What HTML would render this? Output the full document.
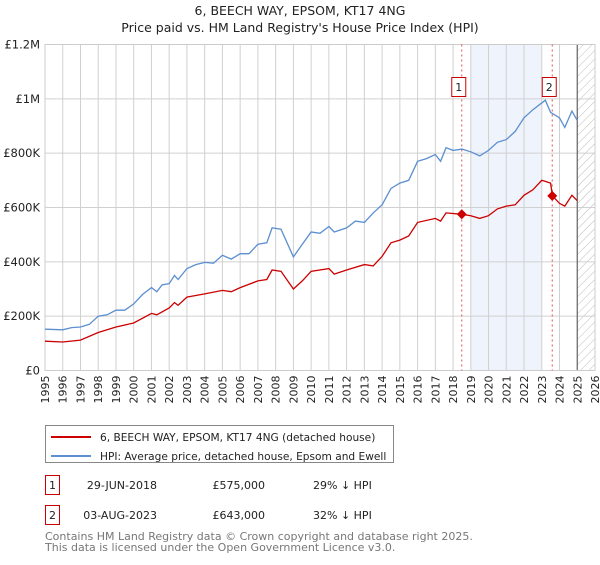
<!DOCTYPE html>
<html><head><meta charset="utf-8"><style>
body{margin:0;background:#fff;font-family:"Liberation Sans","DejaVu Sans",sans-serif;}
svg text{font-family:"DejaVu Sans","Liberation Sans",sans-serif;}
</style></head><body>
<svg id="chart" width="600" height="560" xmlns="http://www.w3.org/2000/svg">
<defs><pattern id="hatch" width="6" height="6" patternUnits="userSpaceOnUse" patternTransform="rotate(45)"><line x1="0" y1="0" x2="0" y2="6" stroke="#bbb" stroke-width="1"/></pattern></defs>
<text x="300" y="15" text-anchor="middle" font-size="12.5" fill="#222">6, BEECH WAY, EPSOM, KT17 4NG</text>
<text x="300" y="32" text-anchor="middle" font-size="12.5" fill="#222">Price paid vs. HM Land Registry's House Price Index (HPI)</text>
<g id="plot"></g>
<rect x="45.5" y="425.5" width="348" height="37" fill="#fff" stroke="#888"/>
<line x1="51" y1="437" x2="91" y2="437" stroke="#cc0000" stroke-width="2"/>
<text x="100" y="441" font-size="10.6" fill="#222">6, BEECH WAY, EPSOM, KT17 4NG (detached house)</text>
<line x1="51" y1="456" x2="91" y2="456" stroke="#5b8fd0" stroke-width="2"/>
<text x="100" y="460" font-size="10.6" fill="#222">HPI: Average price, detached house, Epsom and Ewell</text>
<g font-size="11" fill="#222">
<rect x="45.5" y="475.5" width="14" height="19" fill="none" stroke="#cc0000"/>
<text x="52.5" y="489" text-anchor="middle">1</text>
<text x="157" y="489" text-anchor="end">29-JUN-2018</text>
<text x="265" y="489" text-anchor="end">£575,000</text>
<text x="313" y="489">29% ↓ HPI</text></g>
<g font-size="11" fill="#222">
<rect x="45.5" y="505.5" width="14" height="19" fill="none" stroke="#cc0000"/>
<text x="52.5" y="519" text-anchor="middle">2</text>
<text x="157" y="519" text-anchor="end">03-AUG-2023</text>
<text x="265" y="519" text-anchor="end">£643,000</text>
<text x="313" y="519">32% ↓ HPI</text></g>
<text x="45" y="540" font-size="11" fill="#777">Contains HM Land Registry data © Crown copyright and database right 2025.</text>
<text x="45" y="551" font-size="11" fill="#777">This data is licensed under the Open Government Licence v3.0.</text>
</svg>
<script>
const hpiYears=[1995,1996,1996.5,1997,1997.5,1998,1998.5,1999,1999.5,2000,2000.5,2001,2001.3,2001.6,2002,2002.3,2002.5,2003,2003.5,2004,2004.5,2005,2005.5,2006,2006.5,2007,2007.5,2007.8,2008.3,2009,2009.5,2010,2010.5,2011,2011.3,2012,2012.5,2013,2013.5,2014,2014.5,2015,2015.5,2016,2016.5,2017,2017.3,2017.6,2018,2018.5,2019,2019.5,2020,2020.5,2021,2021.5,2022,2022.5,2023.2,2023.5,2024,2024.3,2024.7,2025];
const hpiValues=[152,150,158,160,170,200,205,222,222,245,280,305,290,315,320,350,335,375,390,398,395,424,410,430,430,465,470,525,520,418,465,510,505,530,510,525,550,545,580,610,670,690,700,770,780,795,770,820,810,815,805,790,810,840,850,880,930,960,995,950,930,895,955,920];
const propYears=[1995,1996,1997,1998,1999,2000,2001,2001.3,2002,2002.3,2002.5,2003,2004,2005,2005.5,2006,2007,2007.5,2007.8,2008.3,2009,2009.5,2010,2011,2011.3,2012,2013,2013.5,2014,2014.5,2015,2015.5,2016,2017,2017.3,2017.6,2018.5,2019,2019.5,2020,2020.5,2021,2021.5,2022,2022.5,2023,2023.5,2023.6,2024,2024.3,2024.7,2025];
const propValues=[108,105,112,140,160,175,210,205,230,250,240,270,282,295,290,305,330,335,370,365,300,330,365,375,355,370,390,385,420,470,480,495,545,560,550,580,575,570,560,570,595,605,610,645,665,700,690,643,615,605,645,625];
const saleYears=[2018.49,2023.59];
const saleValues=[575,643];
const saleLabels=["1","2"];
const yTicks=[0,200,400,600,800,1000,1200];
const yTickLabels=["£0","£200K","£400K","£600K","£800K","£1M","£1.2M"];
const xTicks=[];for(let y=1995;y<=2026;y++)xTicks.push(y);
const X0=45,X1=595,Y0=370.5,Y1=44.5,XMIN=1995,XMAX=2026,YMAX=1200;
const xs=v=>X0+(v-XMIN)/(XMAX-XMIN)*(X1-X0);
const ys=v=>Y0-v/YMAX*(Y0-Y1);
const NS="http://www.w3.org/2000/svg";
const g=document.getElementById('plot');
function mk(t,a){const e=document.createElementNS(NS,t);for(const k in a)e.setAttribute(k,a[k]);g.appendChild(e);return e;}
let e=mk('rect',{x:xs(2019),y:Y1,width:xs(2023)-xs(2019),height:Y0-Y1,fill:'#eef3fc'});


e=mk('rect',{x:xs(2025),y:Y1,width:xs(2026)-xs(2025),height:Y0-Y1,fill:'url(#hatch)'});


xTicks.forEach(t=>{
 const l=mk('line',{x1:xs(t),x2:xs(t),y1:Y1,y2:Y0,stroke:'#d0d0d0'});
 
 
 const tx=mk('text',{x:0,y:0,'font-size':11,fill:'#222','text-anchor':'end',transform:`translate(${xs(t)+4},${Y0+5}) rotate(-90)`});
 tx.textContent=t;
 
 
});
yTicks.forEach((t,i)=>{
 const l=mk('line',{x1:X0,x2:X1,y1:ys(t),y2:ys(t),stroke:'#d0d0d0'});
 
 
 const tx=mk('text',{x:X0-5,y:ys(t)+4,'font-size':11.5,fill:'#222','text-anchor':'end'});
 tx.textContent=yTickLabels[i];
 
 
});
e=mk('line',{x1:xs(2025),x2:xs(2025),y1:Y1,y2:Y0,stroke:'#666','stroke-width':1.2});


e=mk('rect',{x:X0,y:Y1,width:X1-X0,height:Y0-Y1,fill:'none',stroke:'#ccc'});


saleYears.forEach((yr,i)=>{
 const l=mk('line',{x1:xs(yr),x2:xs(yr),y1:Y1,y2:Y0,stroke:'#e05050','stroke-dasharray':'2,3'});
 
 
});
function path(xa,va,col,name){
 const d=xa.map((x,i)=>(i?'L':'M')+xs(x).toFixed(1)+','+ys(va[i]).toFixed(1)).join('');
 const p=mk('path',{d:d,fill:'none',stroke:col,'stroke-width':1.3});
 
 
}
path(hpiYears,hpiValues,'#5b8fd0','hpi-line');
path(propYears,propValues,'#cc0000','property-line');
saleYears.forEach((yr,i)=>{
 const cx=xs(yr),cy=ys(saleValues[i]);
 const d=mk('polygon',{points:`${cx},${cy-5} ${cx+5},${cy} ${cx},${cy+5} ${cx-5},${cy}`,fill:'#cc0000'});
 
 
 const b=mk('rect',{x:cx-10,y:77.5,width:14,height:19,fill:'#fff',stroke:'#cc0000'});
 
 
 const t=mk('text',{x:cx-3,y:91,'font-size':11,fill:'#222','text-anchor':'middle'});
 t.textContent=saleLabels[i];
 
 
});
</script>
</body></html>
